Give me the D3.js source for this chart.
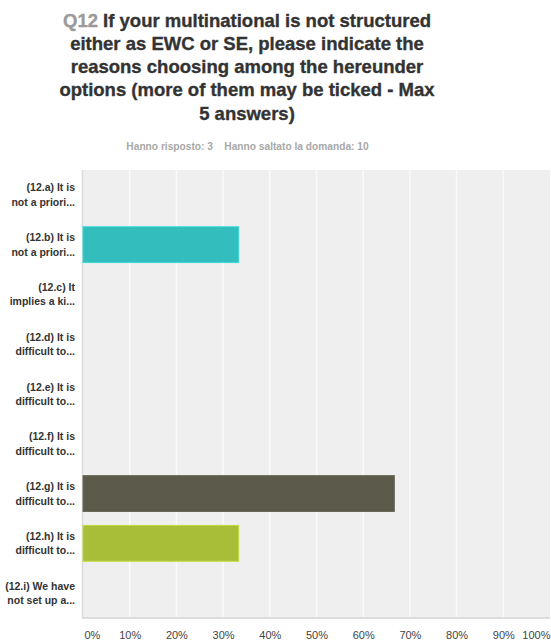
<!DOCTYPE html>
<html>
<head>
<meta charset="utf-8">
<script src="https://cdn.jsdelivr.net/npm/d3@7"></script>
<style>
  body { margin: 0; background: #fff; }
  svg { display: block; font-family: "Liberation Sans", Arial, Helvetica, sans-serif; }
</style>
</head>
<body>
<svg id="chart" width="551" height="640"></svg>
<script>
// Answer options (two-line truncated labels) and their share of respondents
const categories = ["12.a", "12.b", "12.c", "12.d", "12.e", "12.f", "12.g", "12.h", "12.i"];
const labelLine1 = ["(12.a) It is", "(12.b) It is", "(12.c) It", "(12.d) It is", "(12.e) It is", "(12.f) It is", "(12.g) It is", "(12.h) It is", "(12.i) We have"];
const labelLine2 = ["not a priori...", "not a priori...", "implies a ki...", "difficult to...", "difficult to...", "difficult to...", "difficult to...", "difficult to...", "not set up a..."];
const values = [0, 33.33, 0, 0, 0, 0, 66.67, 33.33, 0];
const barColors = ["#33bdbd", "#33bdbd", "#33bdbd", "#33bdbd", "#33bdbd", "#33bdbd", "#5c5a4b", "#a8bd38", "#33bdbd"];
const tickValues = [0, 10, 20, 30, 40, 50, 60, 70, 80, 90, 100];

const titleLines = [
  ["Q12 ", "If your multinational is not structured"],
  ["", "either as EWC or SE, please indicate the"],
  ["", "reasons choosing among the hereunder"],
  ["", "options (more of them may be ticked - Max"],
  ["", "5 answers)"]
];
const subtitle = "Hanno risposto: 3    Hanno saltato la domanda: 10";

const svg = d3.select("#chart");
const plot = { left: 83, right: 550, top: 170, bottom: 618 };

// Title block
const title = svg.append("g");
titleLines.forEach((ln, i) => {
  const t = title.append("text")
    .attr("x", 247)
    .attr("y", 26.5 + i * 23.3)
    .attr("text-anchor", "middle")
    .attr("font-size", 18.5)
    .attr("font-weight", "bold")
    .attr("stroke-width", 0.35);
  if (ln[0]) t.append("tspan").attr("fill", "#9a9a9a").attr("stroke", "#9a9a9a").text(ln[0]);
  t.append("tspan").attr("fill", "#333").attr("stroke", "#333").text(ln[1]);
});

svg.append("text")
  .attr("x", 247.5)
  .attr("y", 149.5)
  .attr("text-anchor", "middle")
  .attr("font-size", 10.2)
  .attr("font-weight", "bold")
  .attr("fill", "#a8a8a8")
  .style("white-space", "pre")
  .text(subtitle);

// Scales
const x = d3.scaleLinear().domain([0, 100]).range([plot.left, plot.right]);
const y = d3.scaleBand().domain(categories).range([plot.top, plot.bottom]).paddingInner(0.28).paddingOuter(0.14);

// Plot background
svg.append("rect")
  .attr("x", plot.left).attr("y", plot.top)
  .attr("width", plot.right - plot.left).attr("height", plot.bottom - plot.top)
  .attr("fill", "#efefef");

// Vertical gridlines
svg.append("g").selectAll("line")
  .data(tickValues.filter(v => v > 0 && v < 100))
  .join("line")
  .attr("x1", d => x(d)).attr("x2", d => x(d))
  .attr("y1", plot.top).attr("y2", plot.bottom)
  .attr("stroke", "#fafafa").attr("stroke-width", 1.5);

// Left and bottom frame lines
svg.append("line")
  .attr("x1", plot.left - 0.5).attr("x2", plot.left - 0.5)
  .attr("y1", plot.top).attr("y2", plot.bottom)
  .attr("stroke", "#dcdcdc").attr("stroke-width", 1.5);
svg.append("line")
  .attr("x1", plot.left - 1).attr("x2", plot.right)
  .attr("y1", plot.bottom).attr("y2", plot.bottom)
  .attr("stroke", "#dcdcdc").attr("stroke-width", 2);

// Bars
svg.append("g").selectAll("rect")
  .data(categories)
  .join("rect")
  .attr("x", x(0))
  .attr("y", d => y(d))
  .attr("width", (d, i) => x(values[i]) - x(0))
  .attr("height", y.bandwidth())
  .attr("fill", (d, i) => barColors[i])
  .attr("stroke", (d, i) => d3.color(barColors[i]).brighter(0.4))
  .attr("stroke-width", (d, i) => values[i] > 0 ? 1 : 0);

// Category labels
const labels = svg.append("g");
categories.forEach((c, i) => {
  const cy = y(c) + y.bandwidth() / 2;
  const t = labels.append("text")
    .attr("text-anchor", "end")
    .attr("font-size", 10.5)
    .attr("font-weight", "bold")
    .attr("fill", "#333");
  t.append("tspan").attr("x", 75).attr("y", cy - 3.5).text(labelLine1[i]);
  t.append("tspan").attr("x", 75).attr("y", cy + 11).text(labelLine2[i]);
});

// X axis tick labels
const xAxis = d3.axisBottom(x).tickValues(tickValues).tickFormat(d => d + "%").tickSize(0);
const ax = svg.append("g").attr("transform", `translate(0,${plot.bottom})`).call(xAxis);
ax.select(".domain").remove();
ax.selectAll("text")
  .attr("y", 21)
  .attr("dy", 0)
  .attr("font-size", 11)
  .attr("font-family", "Liberation Sans, Arial, sans-serif")
  .attr("fill", "#444")
  .attr("text-anchor", d => d === 0 ? "start" : d === 100 ? "end" : "middle")
  .attr("dx", d => d === 0 ? 1 : 0);
</script>
</body>
</html>
